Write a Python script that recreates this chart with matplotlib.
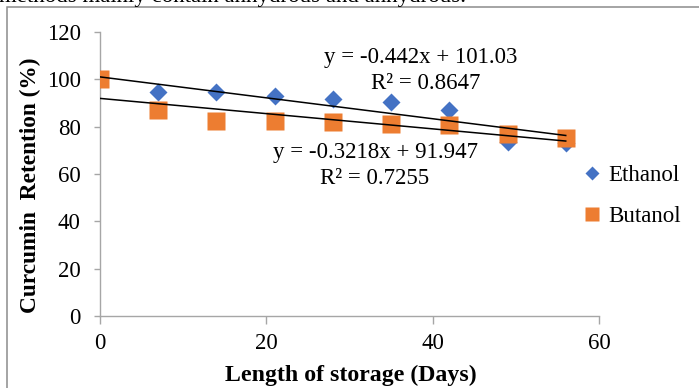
import numpy as np
import matplotlib
matplotlib.use('Agg')
from matplotlib import pyplot as plt
from matplotlib.patches import Rectangle

plt.rcParams['font.family'] = ['Liberation Serif', 'DejaVu Serif']

days = [0, 7, 14, 21, 28, 35, 42, 49, 56]
ethanol = [100, 94.7, 94.7, 93.1, 91.7, 90.3, 86.9, 73.7, 73.3]
butanol = [100, 87.2, 82.5, 82.5, 81.9, 81.2, 80.6, 76.9, 75.4]
eth_fit = (-0.442, 101.03, 0.8647)
but_fit = (-0.3218, 91.947, 0.7255)
xticks = [0, 20, 40, 60]
yticks = [0, 20, 40, 60, 80, 100, 120]

fs = 16.5
fig = plt.figure(figsize=(6.99, 3.88), dpi=100)
ax = fig.add_axes([100/699., 72/388., 499/699., 284/388.])

# page text cut at the top and chart frame
fig.text(-0.002, 1 - 2/388., 'methods mainly contain anhydrous and anhydrous.',
         fontsize=fs, va='baseline', ha='left')
fig.patches.append(Rectangle((7/699., -0.1), 1.2, 1 - 7/388. + 0.1,
                             transform=fig.transFigure, fill=False,
                             edgecolor='#8c8c8c', lw=1.1))

ax.plot(days, ethanol, 'D', color='#4472C4', ms=9.2, mec='none', label='Ethanol', zorder=3)
ax.plot(days, butanol, 's', color='#ED7D31', ms=13.5, mec='none', label='Butanol', zorder=4)

xx = np.array([days[0], days[-1]])
ax.plot(xx, eth_fit[0]*xx + eth_fit[1], '-', color='black', lw=1.1, zorder=5)
ax.plot(xx, but_fit[0]*xx + but_fit[1], '-', color='black', lw=1.1, zorder=5)

ax.text(38.5, 109.3, 'y = %gx + %.2f' % (eth_fit[0], eth_fit[1]), fontsize=fs, ha='center', va='center')
ax.text(39.2, 98.3, 'R² = %.4f' % eth_fit[2], fontsize=fs, ha='center', va='center')
ax.text(33.1, 69.2, 'y = %gx + %.3f' % (but_fit[0], but_fit[1]), fontsize=fs, ha='center', va='center')
ax.text(33.0, 58.2, 'R² = %.4f' % but_fit[2], fontsize=fs, ha='center', va='center')

ax.set_xlim(0, 60)
ax.set_ylim(0, 120)
ax.set_xticks(xticks)
ax.set_yticks(yticks)
for s in ['top', 'right']:
    ax.spines[s].set_visible(False)
for s in ['left', 'bottom']:
    ax.spines[s].set_color('#a6a6a6')
    ax.spines[s].set_linewidth(1.0)
ax.tick_params(axis='y', length=4, width=1.0, color='#a6a6a6', pad=10, labelsize=fs)
ax.tick_params(axis='x', length=5.5, width=1.0, color='#a6a6a6', pad=7, labelsize=fs)

fig.text(351/699., 1 - 375/388., 'Length of storage (Days)', fontsize=17.2, fontweight='bold',
         ha='center', va='center')
fig.text(30/699., 1 - 185/388., 'Curcumin  Retention (%)', fontsize=16.8, fontweight='bold',
         ha='center', va='center', rotation=90)

ax.legend(loc='center left', bbox_to_anchor=(583/699., 1 - 196/388.), bbox_transform=fig.transFigure,
          frameon=False, fontsize=fs, markerscale=0.75, handlelength=0.8, handletextpad=0.3,
          labelspacing=0.85, borderpad=0, borderaxespad=0)

plt.savefig('out.png', dpi=100)
